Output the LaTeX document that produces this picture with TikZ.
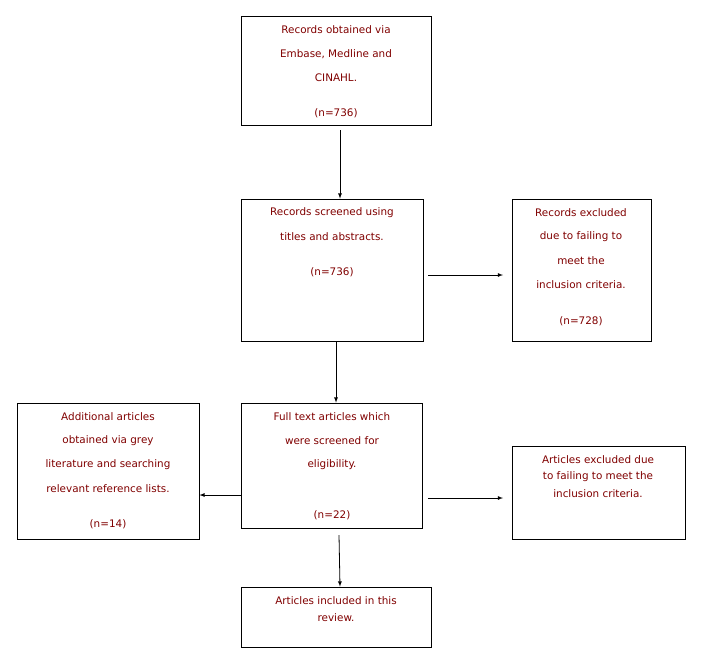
\documentclass[tikz,border=0pt]{standalone}
\usepackage{fontspec}
\setmainfont{DejaVu Sans}
\begin{document}
\begin{tikzpicture}[x=1pt,y=-1pt,
  box/.style={draw,line width=0.8pt,inner sep=0pt},
  t/.style={text=txt,font=\fontsize{10.4}{12}\selectfont,inner sep=0pt,anchor=center},
  arr/.style={-latex,line width=0.8pt}]
\definecolor{txt}{HTML}{800000}
\useasboundingbox (0,0) rectangle (703,670);
\newcommand\bx[5]{\node[box,minimum width=#4-#2,minimum height=#5-#3] (#1) at ({(#2+#4)/2},{(#3+#5)/2}) {};}
\bx{b1}{241}{16}{431}{125}
\bx{b2}{241}{199}{423}{341}
\bx{b3}{512}{199}{651}{341}
\bx{b4}{17}{403}{199}{539}
\bx{b5}{241}{403}{422}{528}
\bx{b6}{512}{446}{685}{539}
\bx{b7}{241}{587}{431}{647}
\node[t] (t11) at (336,30) {Records obtained via};
\node[t] (t12) at (336,54) {Embase, Medline and};
\node[t] (t13) at (336,78) {CINAHL.};
\node[t] (t14) at (336,113) {(n=736)};
\node[t] (t21) at (332,213) {Records screened using};
\node[t] (t22) at (332,237) {titles and abstracts.};
\node[t] (t23) at (332,272) {(n=736)};
\node[t] (t31) at (581,213) {Records excluded};
\node[t] (t32) at (581,237) {due to failing to};
\node[t] (t33) at (581,261) {meet the};
\node[t] (t34) at (581,285) {inclusion criteria.};
\node[t] (t35) at (581,321) {(n=728)};
\node[t] (t41) at (108,417) {Additional articles};
\node[t] (t42) at (108,441) {obtained via grey};
\node[t] (t43) at (108,465) {literature and searching};
\node[t] (t44) at (108,489) {relevant reference lists.};
\node[t] (t45) at (108,524) {(n=14)};
\node[t] (t51) at (332,417) {Full text articles which};
\node[t] (t52) at (332,441) {were screened for};
\node[t] (t53) at (332,465) {eligibility.};
\node[t] (t54) at (332,515) {(n=22)};
\node[t] (t61) at (598,460) {Articles excluded due};
\node[t] (t62) at (598,477) {to failing to meet the};
\node[t] (t63) at (598,494) {inclusion criteria.};
\node[t] (t71) at (336,601) {Articles included in this};
\node[t] (t72) at (336,618) {review.};
\coordinate (a1) at (340,130);
\coordinate (a2) at (428,275);
\coordinate (a3) at (503,275);
\coordinate (a4) at (428,498);
\coordinate (a5) at (503,498);
\coordinate (a6) at (339,535);
\draw[arr] (a1) -- (b2.north-|a1);
\draw[arr] (b2.south-|336,0) -- (b5.north-|336,0);
\draw[arr] (a2) -- (a3);
\draw[arr] (b5.west|-0,495) -- (b4.east|-0,495);
\draw[arr] (a4) -- (a5);
\draw[arr] (a6) -- (b7.north-|340,0);
\end{tikzpicture}
\end{document}
